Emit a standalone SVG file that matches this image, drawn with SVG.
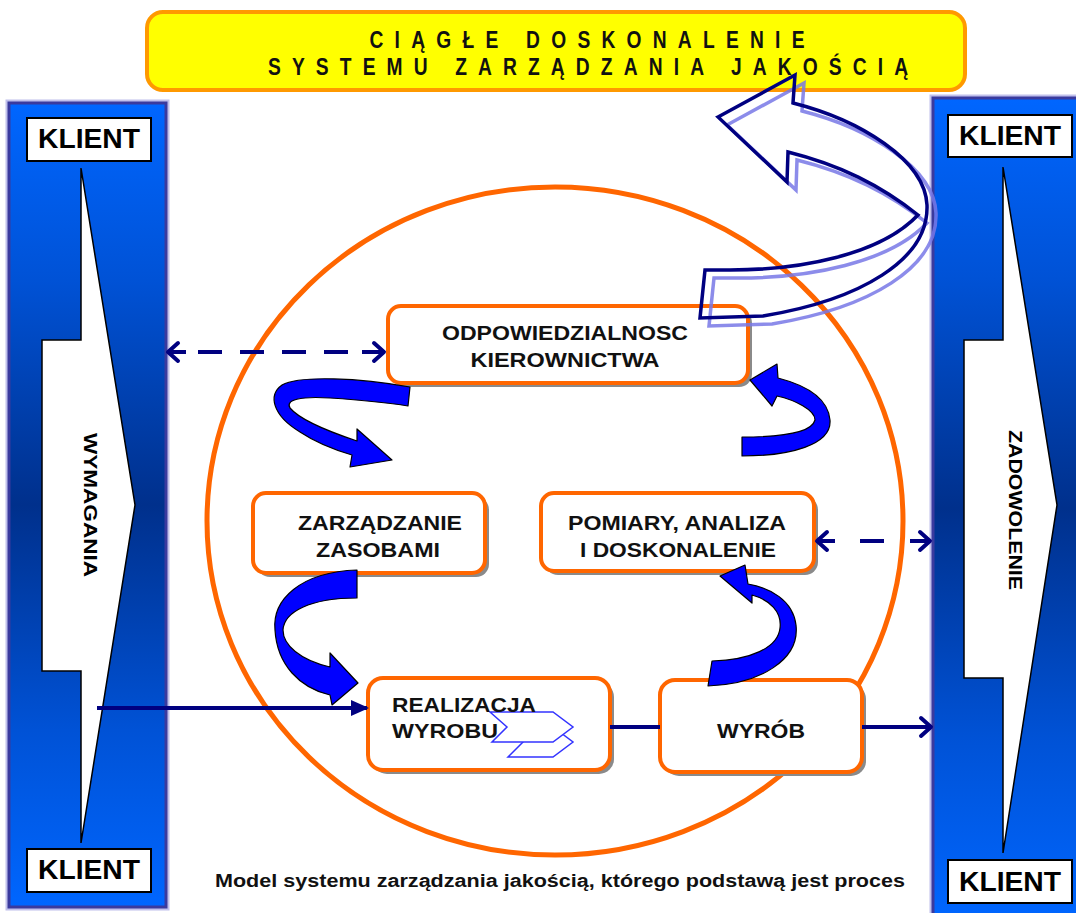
<svg xmlns="http://www.w3.org/2000/svg" width="1076" height="913" viewBox="0 0 1076 913">
<style>
  .col{fill:url(#colGrad);stroke:#3a3a9e;stroke-width:3}
  .halo{fill:none;stroke:#c0c0ec;stroke-width:7}
  .wa{fill:#fff;stroke:#000;stroke-width:1.5}
  .kbox{fill:#fff;stroke:#000;stroke-width:2}
  .klient{font-family:"Liberation Sans",Arial,sans-serif;font-weight:bold;font-size:27px;fill:#000;text-anchor:middle}
  .vt{font-family:"Liberation Sans",Arial,sans-serif;font-weight:bold;font-size:18px;fill:#000;text-anchor:middle}
  .box{fill:#fff;stroke:#ff6600;stroke-width:4}
  .shadow{fill:#8a8a8a}
  .bt{font-family:"Liberation Sans",Arial,sans-serif;font-weight:bold;font-size:20px;fill:#111;text-anchor:middle}
  .title{font-family:"Liberation Sans",Arial,sans-serif;font-weight:bold;font-size:24px;fill:#111;text-anchor:middle}
  .cap{font-family:"Liberation Sans",Arial,sans-serif;font-weight:bold;font-size:18px;fill:#111;text-anchor:middle}
  .rib{fill:#0000ff;stroke:#000;stroke-width:1.2;stroke-linejoin:round}
  .conn{fill:none;stroke:#000080;stroke-width:4}
  .hollow{fill:none;stroke:#000080;stroke-width:3.5;stroke-linejoin:miter}
  .hollowSh{fill:none;stroke:#7878e6;stroke-width:3.5;opacity:0.85}
  .chev{fill:#fff;stroke:#3333ff;stroke-width:1.5}
</style>
<defs>
  <linearGradient id="colGrad" x1="0" y1="0" x2="0" y2="1">
    <stop offset="0" stop-color="#0066ff"/>
    <stop offset="0.22" stop-color="#0052d6"/>
    <stop offset="0.5" stop-color="#00308c"/>
    <stop offset="0.78" stop-color="#0052d6"/>
    <stop offset="1" stop-color="#0066ff"/>
  </linearGradient>
  <marker id="chev" markerUnits="userSpaceOnUse" markerWidth="20" markerHeight="24" refX="13" refY="10" orient="auto-start-reverse" viewBox="0 0 20 20">
    <path d="M3,1 L13,10 L3,19" fill="none" stroke="#000080" stroke-width="4" stroke-linecap="round" stroke-linejoin="round"/>
  </marker>
  <marker id="tri" markerUnits="userSpaceOnUse" markerWidth="18" markerHeight="16" refX="16" refY="8" orient="auto" viewBox="0 0 18 16">
    <path d="M0,0 L18,8 L0,16 Z" fill="#000080"/>
  </marker>
  <path id="hollowPath" d="M718,117 L795,75 L793,103 C860,120 925,160 927,205 C929,260 860,300 763,316 L700,318 L705,270 L730,270 C800,270 880,255 918,215 C880,185 840,165 788,152 L787,182 Z"/>
</defs>

<rect width="1076" height="913" fill="#fff"/>

<!-- Left client column -->
<g id="left-column">
  <rect class="halo" x="9" y="103" width="157" height="804"/>
  <rect class="col" x="9" y="103" width="157" height="804"/>
  <polygon class="wa" points="81,168 135,505 81,843 81,671 42,671 42,340 81,340"/>
  <text class="vt" transform="translate(84,505) rotate(90)" textLength="144" lengthAdjust="spacingAndGlyphs">WYMAGANIA</text>
  <g id="klient-lt">
    <rect class="kbox" x="27" y="118" width="124" height="43"/>
    <text class="klient" x="89" y="148" textLength="102" lengthAdjust="spacingAndGlyphs">KLIENT</text>
  </g>
  <g id="klient-lb">
    <rect class="kbox" x="27" y="849" width="124" height="43"/>
    <text class="klient" x="89" y="879" textLength="102" lengthAdjust="spacingAndGlyphs">KLIENT</text>
  </g>
</g>

<!-- Right client column -->
<g id="right-column">
  <rect class="halo" x="933" y="98" width="150" height="820"/>
  <rect class="col" x="933" y="98" width="150" height="820"/>
  <polygon class="wa" points="1003,167 1057,505 1003,853 1003,678 964,678 964,340 1003,340"/>
  <text class="vt" transform="translate(1009,510) rotate(90)" textLength="160" lengthAdjust="spacingAndGlyphs">ZADOWOLENIE</text>
  <g id="klient-rt">
    <rect class="kbox" x="948" y="115" width="124" height="42"/>
    <text class="klient" x="1010" y="145" textLength="102" lengthAdjust="spacingAndGlyphs">KLIENT</text>
  </g>
  <g id="klient-rb">
    <rect class="kbox" x="948" y="860" width="124" height="43"/>
    <text class="klient" x="1010" y="891" textLength="102" lengthAdjust="spacingAndGlyphs">KLIENT</text>
  </g>
</g>

<!-- Title -->
<g id="title">
  <rect x="147" y="12" width="818" height="78" rx="16" fill="#ffff00" stroke="#ff9900" stroke-width="4"/>
  <g transform="scale(0.8,1)">
    <text class="title" x="733.75" y="48" textLength="543.75" lengthAdjust="spacing">CIĄGŁE DOSKONALENIE</text>
    <text class="title" x="735" y="75" textLength="800" lengthAdjust="spacing">SYSTEMU ZARZĄDZANIA JAKOŚCIĄ</text>
  </g>
</g>

<!-- Process circle -->
<g id="process-circle">
  <ellipse cx="555" cy="521" rx="348" ry="334" fill="none" stroke="#ff6600" stroke-width="5"/>
</g>

<!-- Nodes -->
<g id="node-odpowiedzialnosc">
  <rect class="shadow" x="392" y="310" width="360" height="77" rx="13"/>
  <rect class="box" x="388" y="306" width="360" height="77" rx="13"/>
  <text class="bt" x="565" y="340" textLength="246" lengthAdjust="spacingAndGlyphs">ODPOWIEDZIALNOSC</text>
  <text class="bt" x="565" y="367" textLength="189" lengthAdjust="spacingAndGlyphs">KIEROWNICTWA</text>
</g>
<g id="node-zasoby">
  <rect class="shadow" x="257" y="497" width="232" height="80" rx="13"/>
  <rect class="box" x="253" y="493" width="232" height="80" rx="13"/>
  <text class="bt" x="380" y="530" textLength="164" lengthAdjust="spacingAndGlyphs">ZARZĄDZANIE</text>
  <text class="bt" x="378" y="557" textLength="124" lengthAdjust="spacingAndGlyphs">ZASOBAMI</text>
</g>
<g id="node-pomiary">
  <rect class="shadow" x="545" y="497" width="273" height="78" rx="13"/>
  <rect class="box" x="541" y="493" width="273" height="78" rx="13"/>
  <text class="bt" x="677" y="530" textLength="218" lengthAdjust="spacingAndGlyphs">POMIARY, ANALIZA</text>
  <text class="bt" x="678" y="557" textLength="196" lengthAdjust="spacingAndGlyphs">I DOSKONALENIE</text>
</g>
<g id="node-realizacja">
  <rect class="shadow" x="372" y="682" width="242" height="92" rx="15"/>
  <rect class="box" x="368" y="678" width="242" height="92" rx="15"/>
  <polygon class="chev" points="508,727 553,727 573,742 553,757 508,757 523,742"/>
  <polygon class="chev" points="490,712 553,712 573,727 553,742 492,742 507,727"/>
  <text class="bt" x="392" y="712" style="text-anchor:start" textLength="144" lengthAdjust="spacingAndGlyphs">REALIZACJA</text>
  <text class="bt" x="392" y="738" style="text-anchor:start" textLength="106" lengthAdjust="spacingAndGlyphs">WYROBU</text>
</g>
<g id="node-wyrob">
  <rect class="shadow" x="664" y="684" width="202" height="92" rx="15"/>
  <rect class="box" x="660" y="680" width="202" height="92" rx="15"/>
  <text class="bt" x="761" y="738" textLength="88" lengthAdjust="spacingAndGlyphs">WYRÓB</text>
</g>

<!-- Continuous improvement hollow arrow -->
<g id="improvement-arrow">
  <use href="#hollowPath" class="hollowSh" transform="translate(9,8)"/>
  <use href="#hollowPath" class="hollow"/>
</g>

<!-- Connectors -->
<g id="connectors">
  <path class="conn" stroke-width="3.5" marker-start="url(#chev)" marker-end="url(#chev)" d="M168,352 H186 M198,352 H222 M240,352 H264 M282,352 H306 M324,352 H348 M362,352 H384"/>
  <path class="conn" stroke-width="3.5" marker-start="url(#chev)" marker-end="url(#chev)" d="M817,541 H835 M860,541 H884 M910,541 H930"/>
  <line class="conn" x1="97" y1="708" x2="367" y2="708" stroke-width="3" marker-end="url(#tri)"/>
  <line class="conn" x1="610" y1="727" x2="660" y2="727"/>
  <line class="conn" x1="862" y1="727" x2="931" y2="727" marker-end="url(#chev)"/>
  <!-- cycle ribbons -->
  <path class="rib" d="M410,387 C360,378 300,375 282,385 C268,395 272,415 300,432 C315,442 335,450 352,455 L350,467 L392,460 L357,429 L357,441 C330,432 300,420 290,408 C285,400 300,396 330,398 C360,400 390,403 408,406 Z"/>
  <path class="rib" d="M742,456 C790,456 832,445 830,420 C828,398 805,385 778,378 L777,364 L750,380 L772,406 L777,396 C795,400 815,410 815,420 C812,432 785,437 742,437 Z"/>
  <path class="rib" d="M357,570 C300,572 272,600 275,630 C277,665 300,688 330,695 L332,705 L358,683 L330,653 L330,667 C300,660 283,645 283,630 C284,612 310,598 357,598 Z"/>
  <path class="rib" d="M708,686 C760,684 800,660 796,625 C793,600 770,588 748,584 L745,565 L720,576 L752,603 L752,595 C770,600 782,612 780,628 C778,648 750,660 712,661 Z"/>
</g>

<!-- Caption -->
<text class="cap" x="560" y="887" textLength="690" lengthAdjust="spacingAndGlyphs">Model systemu zarządzania jakością, którego podstawą jest proces</text>
</svg>
